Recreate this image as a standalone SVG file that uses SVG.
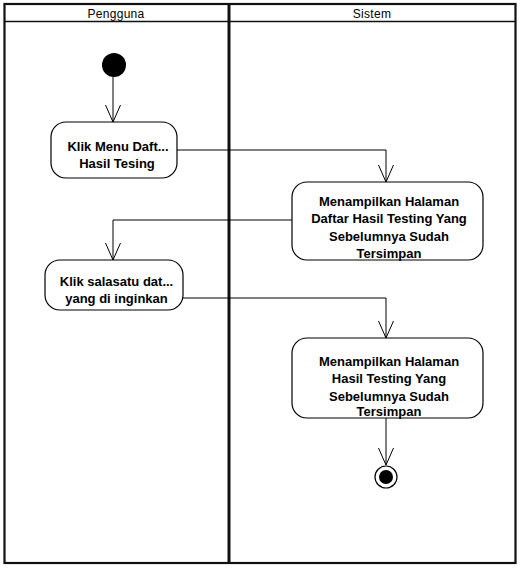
<svg xmlns="http://www.w3.org/2000/svg" width="523" height="571" viewBox="0 0 523 571">
  <style>
    .lane { fill: none; stroke: #111; }
    .hdr { font-family: "Liberation Sans", Arial, sans-serif; font-size: 12px; fill: #000; text-anchor: middle; letter-spacing: 0.3px; }
    .act rect { fill: #fff; stroke: #000; stroke-width: 1.2; }
    .act text { font-family: "Liberation Sans", Arial, sans-serif; font-size: 13px; font-weight: bold; fill: #000; text-anchor: middle; }
    .conn { fill: none; stroke: #000; stroke-width: 1; marker-end: url(#open); }
  </style>
  <defs>
    <marker id="open" markerUnits="userSpaceOnUse" markerWidth="20" markerHeight="20" viewBox="-18 -9 20 18" refX="0" refY="0" orient="auto">
      <path d="M-17,-7.5 L0,0 L-17,7.5" fill="none" stroke="#000" stroke-width="1"/>
    </marker>
  </defs>
  <rect width="523" height="571" fill="#fff"/>
  <g id="swimlanes">
    <rect class="lane" x="4.5" y="4" width="511" height="559" stroke-width="2.2"/>
    <line class="lane" x1="4.5" y1="21.5" x2="515.5" y2="21.5" stroke-width="1.5"/>
    <line class="lane" x1="229" y1="4" x2="229" y2="563" stroke-width="3"/>
    <text class="hdr" x="116" y="18">Pengguna</text>
    <text class="hdr" x="372" y="18">Sistem</text>
  </g>
  <g id="connectors">
    <path class="conn" d="M113,77 L113,122"/>
    <path class="conn" d="M177,150 L386,150 L386,182"/>
    <path class="conn" d="M292,220 L113,220 L113,260"/>
    <path class="conn" d="M183,298 L386,298 L386,338"/>
    <path class="conn" d="M386,418 L386,465"/>
  </g>
  <g id="start">
    <circle cx="114" cy="65" r="12" fill="#000"/>
  </g>
  <g id="klik-menu" class="act">
    <rect x="51" y="122" width="126" height="56" rx="15" ry="15"/>
    <text x="118" y="150.5">Klik Menu Daft...</text>
    <text x="117" y="167.5">Hasil Tesing</text>
  </g>
  <g id="tampil-daftar" class="act">
    <rect x="292" y="182" width="191" height="78" rx="15" ry="15"/>
    <text x="389" y="205.5">Menampilkan Halaman</text>
    <text x="389" y="223">Daftar Hasil Testing Yang</text>
    <text x="389" y="240.5">Sebelumnya Sudah</text>
    <text x="389" y="258">Tersimpan</text>
  </g>
  <g id="klik-salasatu" class="act">
    <rect x="45" y="260" width="138" height="50" rx="15" ry="15"/>
    <text x="116.5" y="286">Klik salasatu dat...</text>
    <text x="116.5" y="303">yang di inginkan</text>
  </g>
  <g id="tampil-hasil" class="act">
    <rect x="292" y="338" width="191" height="80" rx="15" ry="15"/>
    <text x="389" y="365.5">Menampilkan Halaman</text>
    <text x="389" y="383">Hasil Testing Yang</text>
    <text x="389" y="400.5">Sebelumnya Sudah</text>
    <text x="389" y="416">Tersimpan</text>
  </g>
  <g id="end">
    <circle cx="386" cy="477" r="11" fill="#fff" stroke="#000" stroke-width="1.2"/>
    <circle cx="386" cy="477" r="7" fill="#000"/>
  </g>
</svg>
